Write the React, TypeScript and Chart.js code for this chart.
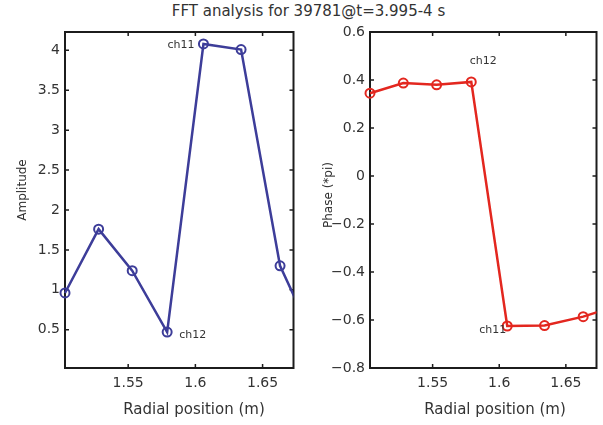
import React, { useEffect, useRef } from "react";
import { Chart, registerables } from "chart.js";

Chart.register(...registerables);

// ---- data ----
const radialPositions = [1.503, 1.528, 1.553, 1.579, 1.606, 1.634, 1.663, 1.689];
const amplitudeValues = [0.96, 1.76, 1.24, 0.47, 4.08, 4.01, 1.3, 0.35];
const phaseValues = [0.345, 0.387, 0.38, 0.392, -0.625, -0.623, -0.586, -0.54];
const xTickValues = [1.55, 1.6, 1.65];
const amplitudeTicks = [0.5, 1, 1.5, 2, 2.5, 3, 3.5, 4];
const phaseTicks = [-0.8, -0.6, -0.4, -0.2, 0, 0.2, 0.4, 0.6];
const amplitudeChannelIdx = [4, 3];
const amplitudeChannelText = ["ch11", "ch12"];
const phaseChannelIdx = [3, 4];
const phaseChannelText = ["ch12", "ch11"];

const titleText = "FFT analysis for 39781@t=3.995-4 s";
const xTitle = "Radial position (m)";
const ampTitle = "Amplitude";
const phaseTitle = "Phase (*pi)";

const FONT = "'DejaVu Sans', 'Open Sans', sans-serif";
const TEXT = "#333333";

const fmt = (v: number) => {
  const r = Math.round(v * 1000) / 1000;
  return r < 0 ? "\u2212" + String(Math.abs(r)) : String(r);
};

const boxPlugin = {
  id: "boxTicks",
  beforeDatasetsDraw(chart: any) {
    const { ctx, chartArea: a, scales } = chart;
    ctx.save();
    ctx.strokeStyle = "#1c1c1c";
    ctx.lineWidth = 2;
    ctx.strokeRect(a.left, a.top, a.right - a.left, a.bottom - a.top);
    ctx.lineWidth = 1.5;
    const len = 4;
    ctx.beginPath();
    scales.x.ticks.forEach((t: any) => {
      const px = scales.x.getPixelForValue(t.value);
      ctx.moveTo(px, a.bottom);
      ctx.lineTo(px, a.bottom - len);
      ctx.moveTo(px, a.top);
      ctx.lineTo(px, a.top + len);
    });
    scales.y.ticks.forEach((t: any) => {
      const py = scales.y.getPixelForValue(t.value);
      ctx.moveTo(a.left, py);
      ctx.lineTo(a.left + len, py);
      ctx.moveTo(a.right, py);
      ctx.lineTo(a.right - len, py);
    });
    ctx.stroke();
    ctx.restore();
  },
};

type Place = { dx: number; dy: number; align: CanvasTextAlign };

const makeLabelPlugin = (idx: number[], texts: string[], places: Place[]) => ({
  id: "chLabels",
  afterDatasetsDraw(chart: any) {
    const { ctx } = chart;
    const pts = chart.getDatasetMeta(0).data;
    ctx.save();
    ctx.font = `11px ${FONT}`;
    ctx.fillStyle = TEXT;
    ctx.textBaseline = "middle";
    idx.forEach((i, k) => {
      const p = pts[i];
      if (!p) return;
      const pl = places[k];
      ctx.textAlign = pl.align;
      ctx.fillText(texts[k], p.x + pl.dx, p.y + pl.dy);
    });
    ctx.restore();
  },
});

function makeConfig(
  values: number[],
  color: string,
  yMin: number,
  yMax: number,
  yTicks: number[],
  yAxisWidth: number,
  rightPad: number,
  labelPlugin: any
): any {
  return {
    type: "line",
    data: {
      labels: radialPositions,
      datasets: [
        {
          data: radialPositions.map((x, i) => ({ x, y: values[i] })),
          borderColor: color,
          backgroundColor: "rgba(0,0,0,0)",
          borderWidth: 2.5,
          pointRadius: 4.5,
          pointBorderWidth: 2,
          pointBackgroundColor: "rgba(0,0,0,0)",
          pointBorderColor: color,
          tension: 0,
          clip: { left: 8, top: 8, bottom: 8, right: 0 },
        },
      ],
    },
    options: {
      animation: false,
      responsive: false,
      maintainAspectRatio: false,
      layout: { padding: { top: 32, right: rightPad, bottom: 0, left: 0 } },
      plugins: { legend: { display: false }, tooltip: { enabled: false }, title: { display: false } },
      scales: {
        x: {
          type: "linear",
          min: 1.503,
          max: 1.673,
          afterBuildTicks: (s: any) => {
            s.ticks = xTickValues.map((v) => ({ value: v }));
          },
          afterFit: (s: any) => {
            s.height = 57;
          },
          grid: { display: false, drawTicks: false },
          border: { display: false },
          ticks: {
            padding: 7,
            color: TEXT,
            autoSkip: false,
            maxRotation: 0,
            font: { family: FONT, size: 14 },
            callback: (v: number) => fmt(v),
          },
          title: { display: false },
        },
        y: {
          type: "linear",
          min: yMin,
          max: yMax,
          afterBuildTicks: (s: any) => {
            s.ticks = yTicks.map((v) => ({ value: v }));
          },
          afterFit: (s: any) => {
            s.width = yAxisWidth;
          },
          grid: { display: false, drawTicks: false },
          border: { display: false },
          ticks: {
            padding: 5,
            color: TEXT,
            autoSkip: false,
            font: { family: FONT, size: 14 },
            callback: (v: number) => fmt(v),
          },
          title: { display: false },
        },
      },
    },
    plugins: [boxPlugin, labelPlugin],
  };
}

const xTitleStyle = (center: number): React.CSSProperties => ({
  position: "absolute",
  left: center - 120,
  width: 240,
  top: 399,
  textAlign: "center",
  fontFamily: FONT,
  fontSize: 15,
  lineHeight: "20px",
  color: TEXT,
  whiteSpace: "nowrap",
});

const yTitleStyle = (cx: number, cy: number): React.CSSProperties => ({
  position: "absolute",
  left: cx - 60,
  top: cy - 8,
  width: 120,
  height: 16,
  lineHeight: "16px",
  textAlign: "center",
  fontFamily: FONT,
  fontSize: 12,
  color: TEXT,
  whiteSpace: "nowrap",
  transform: "rotate(-90deg)",
});

export default function App() {
  const leftRef = useRef<HTMLCanvasElement>(null);
  const rightRef = useRef<HTMLCanvasElement>(null);

  useEffect(() => {
    const left = new Chart(
      leftRef.current!,
      makeConfig(
        amplitudeValues,
        "#3d3d99",
        0.02,
        4.23,
        amplitudeTicks,
        65,
        4,
        makeLabelPlugin(amplitudeChannelIdx, amplitudeChannelText, [
          { dx: -9, dy: 1, align: "right" },
          { dx: 12, dy: 3, align: "left" },
        ])
      )
    );
    const right = new Chart(
      rightRef.current!,
      makeConfig(
        phaseValues,
        "#e3271f",
        -0.8,
        0.6,
        phaseTicks,
        70,
        1,
        makeLabelPlugin(phaseChannelIdx, phaseChannelText, [
          { dx: 12, dy: -21, align: "center" },
          { dx: -1, dy: 4, align: "right" },
        ])
      )
    );
    return () => {
      left.destroy();
      right.destroy();
    };
  }, []);

  return (
    <div
      style={{
        position: "fixed",
        left: 0,
        top: 0,
        width: 603,
        height: 425,
        background: "#ffffff",
        overflow: "hidden",
      }}
    >
      <div
        style={{
          position: "absolute",
          left: 0,
          top: 1,
          width: 617,
          textAlign: "center",
          fontFamily: FONT,
          fontSize: 15,
          lineHeight: "20px",
          color: TEXT,
          whiteSpace: "nowrap",
        }}
      >
        {titleText}
      </div>
      <canvas
        ref={leftRef}
        width={300}
        height={425}
        style={{ position: "absolute", left: 0, top: 0, width: 300, height: 425 }}
      />
      <canvas
        ref={rightRef}
        width={303}
        height={425}
        style={{ position: "absolute", left: 300, top: 0, width: 303, height: 425 }}
      />
      <div style={xTitleStyle(194)}>{xTitle}</div>
      <div style={xTitleStyle(495)}>{xTitle}</div>
      <div style={yTitleStyle(22, 190)}>{ampTitle}</div>
      <div style={yTitleStyle(328, 195)}>{phaseTitle}</div>
    </div>
  );
}
